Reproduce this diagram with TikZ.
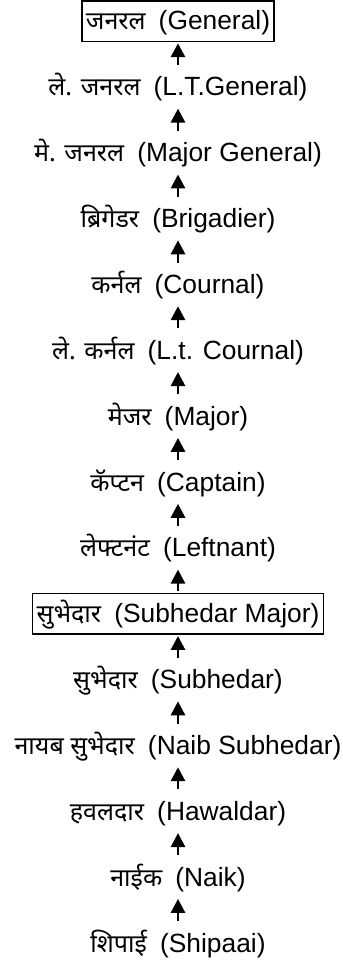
\documentclass[tikz,border=0pt]{standalone}
\usepackage{fontspec}
\setmainfont{Liberation Sans}
\newfontfamily\hindifont[Script=Devanagari,Scale=0.95]{Noto Sans}
\newcommand{\rankname}[2]{{\hindifont #1}\hspace{0.22em} (#2)}
\usetikzlibrary{arrows.meta,positioning}

\begin{document}
\begin{tikzpicture}[
    rank/.style={anchor=base, inner sep=0.12cm, text height=0.75cm, text depth=0.225cm,
                 font=\fontsize{22.5}{27}\selectfont},
    chief/.style={rank, draw, line width=0.045cm},
    up/.style={line width=0.085cm, -{Triangle[length=0.42cm,width=0.42cm]},
               shorten <=0.05cm, shorten >=0.03cm}]
                        \useasboundingbox (0,0) rectangle (10.290000,28.950000);

                        % Marking the ranks from top to bottom
                        \node [chief] (general)  at (5.340000,28.050000) {\rankname{जनरल}{General}};%
                        \node [rank]  (ltgen)    at (5.340000,26.074000) {\rankname{ले. जनरल}{L.T.General}};%
                        \node [rank]  (majgen)   at (5.340000,24.098000) {\rankname{मे. जनरल}{Major General}};%
                        \node [rank]  (brig)     at (5.340000,22.123000) {\rankname{ब्रिगेडर}{Brigadier}};%
                        \node [rank]  (col)      at (5.340000,20.147000) {\rankname{कर्नल}{Cournal}};%
                        \node [rank]  (ltcol)    at (5.340000,18.171000) {\rankname{ले. कर्नल}{L.t. Cournal}};%
                        \node [rank]  (major)    at (5.340000,16.195000) {\rankname{मेजर}{Major}};%
                        \node [rank]  (captain)  at (5.340000,14.219000) {\rankname{कॅप्टन}{Captain}};%
                        \node [rank]  (lieut)    at (5.340000,12.244000) {\rankname{लेफ्टनंट}{Leftnant}};%
                        \node [chief] (submaj)   at (5.340000,10.268000) {\rankname{सुभेदार}{Subhedar Major}};%
                        \node [rank]  (subedar)  at (5.340000,8.292000) {\rankname{सुभेदार}{Subhedar}};%
                        \node [rank]  (naibsub)  at (5.340000,6.316000) {\rankname{नायब सुभेदार}{Naib Subhedar}};%
                        \node [rank]  (hawaldar) at (5.340000,4.340000) {\rankname{हवलदार}{Hawaldar}};%
                        \node [rank]  (naik)     at (5.340000,2.365000) {\rankname{नाईक}{Naik}};%
                        \node [rank]  (sepoy)    at (5.340000,0.389000) {\rankname{शिपाई}{Shipaai}};%

                        % Drawing arrows up the chain
                        \draw [up] (ltgen.north) -- (general.south);%
                        \draw [up] (majgen.north) -- (ltgen.south);%
                        \draw [up] (brig.north) -- (majgen.south);%
                        \draw [up] (col.north) -- (brig.south);%
                        \draw [up] (ltcol.north) -- (col.south);%
                        \draw [up] (major.north) -- (ltcol.south);%
                        \draw [up] (captain.north) -- (major.south);%
                        \draw [up] (lieut.north) -- (captain.south);%
                        \draw [up] (submaj.north) -- (lieut.south);%
                        \draw [up] (subedar.north) -- (submaj.south);%
                        \draw [up] (naibsub.north) -- (subedar.south);%
                        \draw [up] (hawaldar.north) -- (naibsub.south);%
                        \draw [up] (naik.north) -- (hawaldar.south);%
                        \draw [up] (sepoy.north) -- (naik.south);%
                    \end{tikzpicture}
\end{document}
